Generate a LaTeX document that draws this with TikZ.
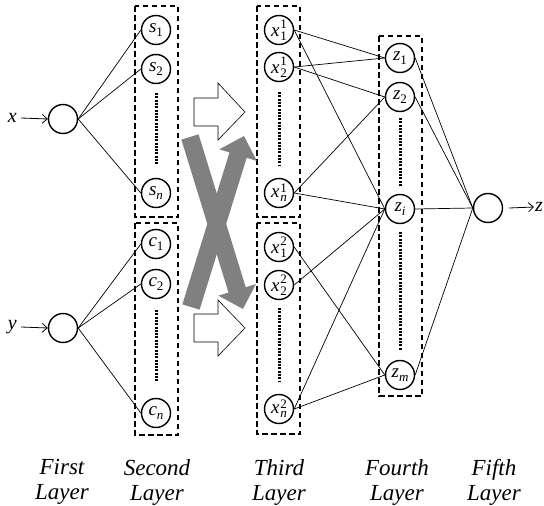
\documentclass[tikz,border=0pt]{standalone}
\usepackage{fontspec}
\setmainfont{Liberation Serif}
\usetikzlibrary{arrows.meta,calc}
% subscript / stacked super- and subscript for neuron labels
\newcommand{\lsub}[1]{\raisebox{-4pt}{\fontsize{13}{13}\selectfont #1}}
\newcommand{\lsupsub}[2]{\kern0.8pt\raisebox{-4pt}{\fontsize{13}{10.5}\selectfont\shortstack[l]{#1\\#2}}}
\begin{document}
\begin{tikzpicture}[x=1pt,y=-1pt,
  neuron/.style={circle,draw,line width=1.4pt,minimum size=29pt,inner sep=0pt,
                 font=\fontsize{19}{19}\selectfont\itshape},
  group/.style={draw,line width=1.3pt,dash pattern=on 5.5pt off 3.5pt},
  link/.style={line width=0.7pt},
  vdots/.style={line width=3pt,dash pattern=on 2pt off 1.3pt},
  layerlabel/.style={font=\fontsize{23}{25}\selectfont\itshape,align=center},
  ioarrow/.style={line width=0.8pt,-{Straight Barb[length=5pt,width=9pt]}},
  blockarrow/.style={draw,fill=white,line width=0.6pt},
  crossarrow/.style={draw=black!50,line width=18pt,-{Triangle[width=38pt,length=20pt]}},
  iolabel/.style={font=\fontsize{20}{20}\selectfont\itshape,inner sep=1pt}
]
\useasboundingbox (0,0) rectangle (544,506);

% dashed group boxes
\draw[group] (135,6) rectangle (178,217);
\draw[group] (135,223) rectangle (178,435);
\draw[group] (257,6) rectangle (300,217);
\draw[group] (257,223) rectangle (300,434);
\draw[group] (379,36) rectangle (422,396);

% first layer
\node[neuron] (in1) at (63,119) {};
\node[neuron] (in2) at (63,328) {};
\node[iolabel,anchor=east] (xlab) at (18,118) {x};
\node[iolabel,anchor=east] (ylab) at (18,327) {y};
\draw[ioarrow] (xlab.east) ++(3,0) coordinate (xa) (xa) -- (in1.west);
\draw[ioarrow] (ylab.east) ++(3,0) coordinate (ya) (ya) -- (in2.west);

% second layer
\node[neuron] (s1) at (156,30) {s\lsub{\upshape 1}};
\node[neuron] (s2) at (156,69) {s\lsub{\upshape 2}};
\node[neuron] (sn) at (156,193) {s\lsub{n}};
\node[neuron] (c1) at (156,244) {c\lsub{\upshape 1}};
\node[neuron] (c2) at (156,284) {c\lsub{\upshape 2}};
\node[neuron] (cn) at (156,413) {c\lsub{n}};
\coordinate (sd1) at (156,93);  \coordinate (sd2) at (156,165);
\coordinate (cd1) at (156,310); \coordinate (cd2) at (156,381);
\draw[vdots] (sd1) -- (sd2);
\draw[vdots] (cd1) -- (cd2);

% third layer
\node[neuron] (a1) at (279,30) {x\lsupsub{\upshape 1}{\upshape 1}};
\node[neuron] (a2) at (279,67) {x\lsupsub{\upshape 1}{\upshape 2}};
\node[neuron] (an) at (279,193) {x\lsupsub{\upshape 1}{n}};
\node[neuron] (b1) at (279,247) {x\lsupsub{\upshape 2}{\upshape 1}};
\node[neuron] (b2) at (279,285) {x\lsupsub{\upshape 2}{\upshape 2}};
\node[neuron] (bn) at (279,409) {x\lsupsub{\upshape 2}{n}};
\coordinate (ad1) at (279,92);  \coordinate (ad2) at (279,165);
\coordinate (bd1) at (279,308); \coordinate (bd2) at (279,382);
\draw[vdots] (ad1) -- (ad2);
\draw[vdots] (bd1) -- (bd2);

% fourth layer
\node[neuron] (z1) at (400,58) {z\lsub{\upshape 1}};
\node[neuron] (z2) at (400,97) {z\lsub{\upshape 2}};
\node[neuron] (zi) at (400,209) {z\lsub{i}};
\node[neuron] (zm) at (400,375) {z\lsub{m}};
\coordinate (zd1) at (400,118); \coordinate (zd2) at (400,187);
\coordinate (zd3) at (400,232); \coordinate (zd4) at (400,350);
\draw[vdots] (zd1) -- (zd2);
\draw[vdots] (zd3) -- (zd4);

% fifth layer
\node[neuron] (out) at (488,208) {};
\coordinate (oa) at (509,208);
\node[iolabel,anchor=west] (zlab) at (534,207) {z};
\draw[ioarrow] (oa) -- (zlab.west);

% connections
\foreach \t in {s1,s2,sn} \draw[link] (in1.east) -- (\t.west);
\foreach \t in {c1,c2,cn} \draw[link] (in2.east) -- (\t.west);
\draw[link] (a1.east) -- (z1.west);
\draw[link] (a1.east) -- (zi.west);
\draw[link] (a2.east) -- (z1.west);
\draw[link] (a2.east) -- (z2.west);
\draw[link] (an.east) -- (z2.west);
\draw[link] (an.east) -- (zi.west);
\draw[link] (b1.east) -- (zm.west);
\draw[link] (b2.east) -- (zi.west);
\draw[link] (bn.east) -- (zi.west);
\draw[link] (bn.east) -- (zm.west);
\foreach \t in {z1,z2,zi,zm} \draw[link] (\t.east) -- (out.west);

% block arrows between second and third layer
\draw[blockarrow] (194,98) -- (218,98) -- (218,83) -- (245,112) -- (218,140)
  -- (218,126) -- (194,126) -- cycle;
\draw[blockarrow] (194,314) -- (218,314) -- (218,300) -- (245,328) -- (218,356)
  -- (218,342) -- (194,342) -- cycle;

% crossing arrows
\coordinate (g1s) at (190,137); \coordinate (g1e) at (243,309);
\coordinate (g2s) at (191,307); \coordinate (g2e) at (244,136);
\draw[crossarrow] (g1s) -- (g1e);
\draw[crossarrow] (g2s) -- (g2e);

% layer captions
\node[layerlabel] (L1) at (62,482) {First\\Layer};
\node[layerlabel] (L2) at (157,482) {Second\\Layer};
\node[layerlabel] (L3) at (279,482) {Third\\Layer};
\node[layerlabel] (L4) at (397,482) {Fourth\\Layer};
\node[layerlabel] (L5) at (494,482) {Fifth\\Layer};
\end{tikzpicture}
\end{document}
